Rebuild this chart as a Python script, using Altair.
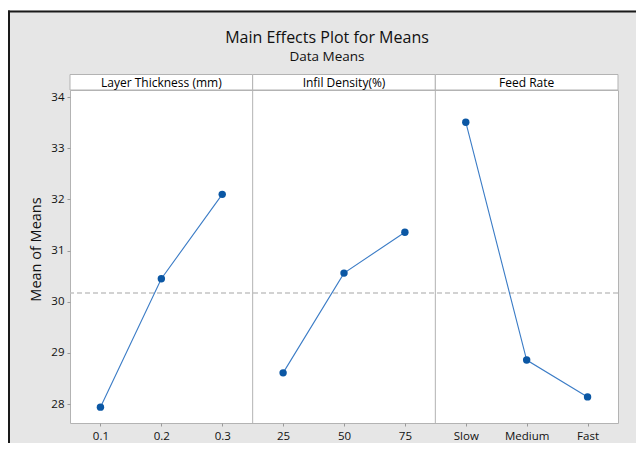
import altair as alt
import pandas as pd

# ---- data ----
factors = ["Layer Thickness (mm)", "Infil Density(%)", "Feed Rate"]
levels = [["0.1", "0.2", "0.3"], ["25", "50", "75"], ["Slow", "Medium", "Fast"]]
means = [[27.94, 30.45, 32.10], [28.61, 30.56, 31.36], [33.51, 28.86, 28.14]]
grand_mean = [30.17]
y_ticks = [28, 29, 30, 31, 32, 33, 34]
y_range = [27.63, 34.14]

# ---- tables built from the arrays ----
rows = []
pos = 0
for f, labs, vals in zip(factors, levels, means):
    for lab, v in zip(labs, vals):
        pos += 1
        rows.append({"factor": f, "level": lab, "pos": pos, "mean": v})
df = pd.DataFrame(rows)

panels = []
start = 0.5
for f, labs in zip(factors, levels):
    end = start + len(labs)
    panels.append({"factor": f, "start": start, "end": end, "mid": (start + end) / 2})
    start = end
pdf = pd.DataFrame(panels)
sep_df = pdf.iloc[1:]
gm_df = pd.DataFrame({"gm": grand_mean})
one = pd.DataFrame({"k": [0]})

all_labels = [l for labs in levels for l in labs]
label_expr = "[" + ",".join("'" + l + "'" for l in all_labels) + "][datum.value - 1]"

FONT = "Open Sans"
GRID = "#b3b3b3"
TXT = "#111111"

x_scale = alt.Scale(domain=[0.5, 0.5 + len(all_labels)], nice=False, zero=False)
y_scale = alt.Scale(domain=y_range, nice=False, zero=False)

x_axis = alt.Axis(values=list(range(1, len(all_labels) + 1)), labelExpr=label_expr,
                  title=None, grid=False, domain=False, tickSize=3, tickColor="#9a9a9a",
                  labelFontSize=11.5, labelColor=TXT, labelPadding=4, labelFont=FONT)
y_axis = alt.Axis(values=y_ticks, title="Mean of Means", grid=False, domain=False,
                  tickSize=3, tickColor="#9a9a9a", labelFontSize=11.5, labelColor=TXT,
                  labelPadding=3, titleFontSize=14.5, titleFontWeight="normal",
                  titleColor=TXT, titlePadding=7, titleY=159, labelFont=FONT, titleFont=FONT)

X = lambda f: alt.X(f, scale=x_scale, axis=x_axis)
Y = lambda f: alt.Y(f, scale=y_scale, axis=y_axis)

ref = alt.Chart(gm_df).mark_rule(color="#c4c4c4", strokeDash=[5, 3], strokeWidth=1.5).encode(
    y=Y("gm:Q"))

seps = alt.Chart(sep_df).mark_rule(color=GRID, strokeWidth=1).encode(x=X("start:Q"))

lines = alt.Chart(df).mark_line(color="#3b7cc6", strokeWidth=1.1).encode(
    x=X("pos:Q"), y=Y("mean:Q"), detail="factor:N")

points = alt.Chart(df).mark_point(filled=True, shape="circle", size=55, color="#0b57a4",
                                  opacity=1).encode(x=X("pos:Q"), y=Y("mean:Q"))

head_rect = alt.Chart(pdf).mark_rect(fill="white", stroke=GRID, strokeWidth=1, clip=False).encode(
    x=X("start:Q"), x2="end:Q", y=alt.value(-15.5), y2=alt.value(0))

head_text = alt.Chart(pdf).mark_text(fontSize=12, fontWeight=500, baseline="middle", color="#000000",
                                     font=FONT, clip=False).encode(
    x=X("mid:Q"), y=alt.value(-7.5), text="factor:N")

# decorative outer frame (top white strip, dark frame lines)
top_white = alt.Chart(one).mark_rect(fill="white", clip=False).encode(
    x=alt.value(-62), x2=alt.value(566), y=alt.value(-82), y2=alt.value(-79.5))
frame_top = alt.Chart(one).mark_rule(color="#1a1a1a", strokeWidth=2, clip=False).encode(
    x=alt.value(-62), x2=alt.value(566), y=alt.value(-78.5))
frame_left = alt.Chart(one).mark_rule(color="#1a1a1a", strokeWidth=2, clip=False).encode(
    x=alt.value(-61), y=alt.value(-79.5), y2=alt.value(353))

chart = alt.layer(top_white, frame_top, frame_left, ref, seps, lines, points, head_rect, head_text).properties(
    width=548, height=333,
    autosize=alt.AutoSizeParams(type="none"),
    padding={"left": 62, "top": 82, "right": 18, "bottom": 20},
    title=alt.TitleParams(text="Main Effects Plot for Means", subtitle="Data Means",
                          font=FONT, fontSize=16, fontWeight="normal", color=TXT,
                          subtitleFont=FONT, subtitleFontSize=13.5, subtitleColor=TXT,
                          subtitlePadding=4, anchor="middle", offset=-55, dx=-17),
).configure(background="#e6e6e6").configure_view(stroke=GRID, fill="white", strokeWidth=1)

chart.save("out.html", embed_options={"renderer": "svg", "actions": False})
